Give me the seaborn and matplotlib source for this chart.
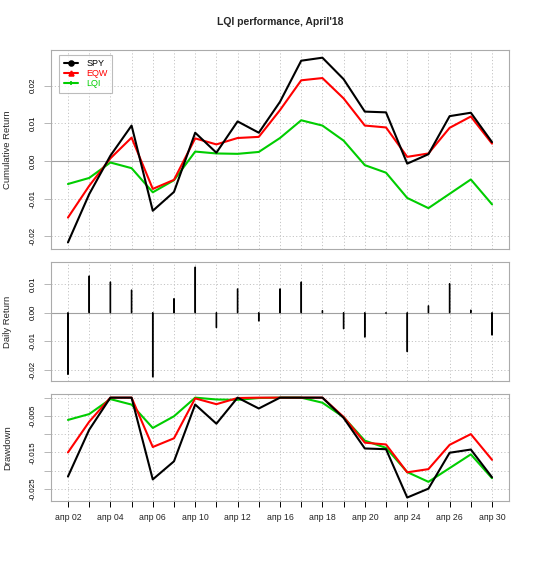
import numpy as np
import pandas as pd
import matplotlib
matplotlib.use("Agg")
import matplotlib.pyplot as plt
from matplotlib.lines import Line2D
import seaborn as sns

# ── Data ──────────────────────────────────────────────────────────────────────
DAYS = ["02", "03", "04", "05", "06", "09", "10", "11", "12", "13", "16",
        "17", "18", "19", "20", "23", "24", "25", "26", "27", "30"]
SERIES = ["SPY", "EQW", "LQI"]

SPY_CUM = [-0.0216, -0.0088, 0.0014, 0.0094, -0.0132, -0.0082, 0.0075, 0.0022,
           0.0105, 0.0075, 0.0157, 0.0266, 0.0274, 0.0217, 0.0131, 0.0129,
           -0.0007, 0.0018, 0.0119, 0.0128, 0.0050]
EQW_CUM = [-0.0150, -0.0066, 0.0007, 0.0062, -0.0074, -0.0050, 0.0060, 0.0044,
           0.0061, 0.0064, 0.0135, 0.0214, 0.0220, 0.0166, 0.0094, 0.0089,
           0.0011, 0.0020, 0.0088, 0.0118, 0.0046]
LQI_CUM = [-0.0061, -0.0045, -0.0004, -0.0019, -0.0083, -0.0051, 0.0025, 0.0020,
           0.0019, 0.0024, 0.0061, 0.0108, 0.0094, 0.0054, -0.0011, -0.0031,
           -0.0098, -0.0125, -0.0087, -0.0049, -0.0115]
SPY_DAILY = [-0.0215, 0.0128, 0.0107, 0.0079, -0.0224, 0.0049, 0.0159, -0.0052,
             0.0083, -0.0029, 0.0083, 0.0107, 0.0007, -0.0056, -0.0085, -0.0002,
             -0.0136, 0.0024, 0.0101, 0.0009, -0.0078]

COLORS = {"SPY": "black", "EQW": "#FF0000", "LQI": "#00CD00"}
MARKERS = {"SPY": "o", "EQW": "^", "LQI": "+"}
GRID = "#C4C4C4"
FRAME = "#ABABAB"

sns.set_style("white")
plt.rcParams["font.family"] = ["Liberation Sans", "DejaVu Sans"]

x = np.arange(len(DAYS))
cum = pd.DataFrame({"SPY": SPY_CUM, "EQW": EQW_CUM, "LQI": LQI_CUM}, index=x)
wealth = 1 + cum
peak = np.maximum(wealth.cummax(), 1.0)
dd = wealth / peak - 1

cum_long = cum.rename_axis("idx").reset_index().melt(id_vars="idx", var_name="series", value_name="value")
dd_long = dd.rename_axis("idx").reset_index().melt(id_vars="idx", var_name="series", value_name="value")
daily = pd.DataFrame({"idx": x, "ret": SPY_DAILY})

# ── Figure layout ─────────────────────────────────────────────────────────────
W, H = 535, 565
fig = plt.figure(figsize=(W / 100, H / 100), dpi=100)

def px_axes(left, top, right, bottom):
    return fig.add_axes([left / W, 1 - bottom / H, (right - left) / W, (bottom - top) / H])

ax1 = px_axes(51, 50, 509, 249)
ax2 = px_axes(51, 262, 509, 381)
ax3 = px_axes(51, 394, 509, 501)


def style_axes(ax, yticks, ylabels, ylim):
    ax.set_xlim(-0.8, 20.8)
    ax.set_ylim(*ylim)
    ax.set_xticks(x)
    ax.set_yticks(yticks)
    ax.set_yticklabels(ylabels, rotation=90, va="center", fontsize=5.8)
    ax.grid(True, color=GRID, linestyle=(0, (1.2, 2.2)), linewidth=0.7)
    ax.set_axisbelow(True)
    for sp in ax.spines.values():
        sp.set_color(FRAME)
        sp.set_linewidth(0.8)
    ax.tick_params(axis="y", left=True, length=5, width=0.6, color=FRAME, pad=5,
                   labelcolor="black")
    ax.tick_params(axis="x", bottom=False, length=0, labelbottom=False)
    ax.set_xlabel("")
    ax.set_ylabel("")


order = ["LQI", "EQW", "SPY"]

# ── Panel 1: cumulative return ────────────────────────────────────────────────
ax1.axhline(0, color="#A0A0A0", lw=0.8, zorder=1)
sns.lineplot(data=cum_long, x="idx", y="value", hue="series", hue_order=order,
             palette=COLORS, linewidth=1.5, legend=False, ax=ax1, zorder=3)
style_axes(ax1, [-0.02, -0.01, 0.0, 0.01, 0.02],
           ["-0.02", "-0.01", "0.00", "0.01", "0.02"], (-0.02334, 0.02944))

handles = [Line2D([0], [0], color=COLORS[s], lw=1.5, marker=MARKERS[s],
                  markersize=3.5, markeredgewidth=1.2) for s in SERIES]
leg = ax1.legend(handles, SERIES, loc="upper left", bbox_to_anchor=(0.0175, 0.975),
                 borderaxespad=0, fontsize=6.5, labelcolor=[COLORS[s] for s in SERIES],
                 frameon=True, fancybox=False, edgecolor=FRAME, handlelength=1.6,
                 handletextpad=0.9, labelspacing=0.1, borderpad=0.5)
leg.get_frame().set_linewidth(0.8)

# ── Panel 2: daily return (thin "h"-style bars) ───────────────────────────────
ax2.axhline(0, color="#A0A0A0", lw=0.8, zorder=1)
sns.barplot(data=daily, x="idx", y="ret", color="black", saturation=1,
            width=0.02, edgecolor="black", linewidth=0.9, ax=ax2, zorder=3)
for bar in ax2.patches:
    bar.set_snap(False)
style_axes(ax2, [-0.02, -0.01, 0.0, 0.01],
           ["-0.02", "-0.01", "0.00", "0.01"], (-0.0238, 0.01766))

# ── Panel 3: drawdown ─────────────────────────────────────────────────────────
sns.lineplot(data=dd_long, x="idx", y="value", hue="series", hue_order=order,
             palette=COLORS, linewidth=1.5, legend=False, ax=ax3, zorder=3)
dd_ticks = [-0.025, -0.02, -0.015, -0.01, -0.005, 0.0]
dd_labels = ["-0.025", "", "-0.015", "", "-0.005", ""]
style_axes(ax3, dd_ticks, dd_labels, (-0.0283, 0.001))
ax3.set_xticklabels(["апр " + d if i % 2 == 0 else "" for i, d in enumerate(DAYS)])
ax3.tick_params(axis="x", bottom=True, length=4.5, width=0.7, color="black",
                labelbottom=True, labelsize=6.3, pad=4)

# ── Text ──────────────────────────────────────────────────────────────────────
fig.text(280 / W, 1 - 22 / H, "LQI performance, April'18", ha="center", va="center",
         fontsize=7.5, fontweight="bold")
for label, yc in [("Cumulative Return", 149.5), ("Daily Return", 321.5), ("Drawdown", 447.5)]:
    fig.text(8 / W, 1 - yc / H, label, rotation=90, ha="center", va="center", fontsize=6.8)

fig.savefig("out.png", dpi=100)
